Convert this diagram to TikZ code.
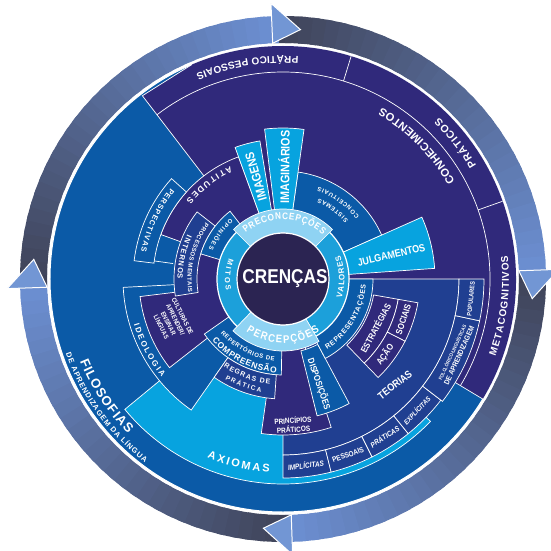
\documentclass[tikz,border=0pt]{standalone}
\usepackage{fontspec}
\setmainfont{Liberation Sans}
\newfontfamily\narrowfont{Liberation Sans}[FakeStretch=0.86]
\usepackage{tikz}
\usetikzlibrary{decorations.text}
\definecolor{coredark}{HTML}{2B2452}
\definecolor{ringblue}{HTML}{1CA0DA}
\definecolor{palblue}{HTML}{8FD3F3}
\definecolor{cyanblue}{HTML}{07A3DF}
\definecolor{midblue}{HTML}{0B5AA7}
\definecolor{deeppurple}{HTML}{30297B}
\definecolor{royblue}{HTML}{203F91}
\definecolor{arrowdark}{HTML}{3F4358}
\definecolor{arrowlight}{HTML}{6B8ED0}
\definecolor{arrowtip}{HTML}{7296D4}

% Kreisring-Ausschnitt und Tortenstueck (Radien in pt, Winkel in Grad)
\newcommand{\ringpart}[5][]{\path[#1] (#4:#2pt) arc[start angle=#4, end angle=#5, radius=#2pt] -- (#5:#3pt) arc[start angle=#5, end angle=#4, radius=#3pt] -- cycle;}
\newcommand{\wedgepart}[4][]{\path[#1] (0,0) -- (#3:#2pt) arc[start angle=#3, end angle=#4, radius=#2pt] -- cycle;}
% Text entlang eines Bogens: [Schrift] Radius, Start, Ende, Groesse, Text
\newcommand{\bogentext}[6][]{\path[decorate, decoration={text along path, text align={fit to path}, text={|\color{white}#1\fontsize{#5}{#5}\selectfont\bfseries|#6}}] (#3:#2pt) arc[start angle=#3, end angle=#4, radius=#2pt];}

\begin{document}
\begin{tikzpicture}[
    x=1pt, y=1pt,
    box/.style={fill=#1, draw=white, line width=0.7pt},
    wline/.style={draw=white, line width=0.7pt},
    lbl/.style={text=white, inner sep=0pt, align=center},
    arrowpart/.style={fill=arrowtip, draw=white, line width=1pt}
  ]
  \path[use as bounding box, fill=white] (-283,-272) rectangle (267,279);

  % Pfeilring mit Farbverlauf
  \foreach \s/\e in {92.5/2, 2/-88, -88/-178, 182/92.5} {
    \foreach \k in {0,...,29} {
      \pgfmathsetmacro\aa{\s+(\e-\s)*\k/30}
      \pgfmathsetmacro\bb{\s+(\e-\s)*(\k+1.5)/30}
      \pgfmathsetmacro\pc{100*\k/29}
      \fill[arrowlight!\pc!arrowdark] (\aa:236pt) arc[start angle=\aa, end angle=\bb, radius=236pt] -- (\bb:263pt) arc[start angle=\bb, end angle=\aa, radius=263pt] -- cycle;
    }
  }
  \foreach \b/\t in {92.5/86, 2/-4.5, -88/-94.5, 182/175.5}
    \filldraw[arrowpart] (\b:236pt) -- (\t:250pt) -- (\b:276pt) -- cycle;

  % Scheibe (Filosofias) und Conhecimentos
  \fill[midblue, draw=white, line width=1pt] (0,0) circle (233pt);
  \fill[deeppurple] (0,0) -- (-31:233pt) arc[start angle=-31, end angle=113, radius=233pt] -- (127.5:231pt) -- cycle;
  \draw[wline] (-31:207pt) arc[start angle=-31, end angle=127.5, radius=207pt];
  \draw[wline] (127.5:130pt) -- (127.5:231pt) -- (113:233pt);
  \draw[wline] (73:207pt) -- (73:233pt) (19.5:207pt) -- (19.5:233pt) (-31:199pt) -- (-31:233pt);

  % Axiomas, Teorias
  \wedgepart[box=cyanblue]{205}{219.5}{316}
  \wedgepart[box=royblue]{176}{-90}{0}
  \ringpart[box=royblue]{176}{199}{-90}{-76}
  \ringpart[box=royblue]{176}{199}{-76}{-63.4}
  \ringpart[box=royblue]{176}{199}{-63.4}{-51}
  \ringpart[box=royblue]{176}{199}{-51}{-37.5}
  \ringpart[box=royblue]{176}{201}{-37.5}{-12}
  \ringpart[box=royblue]{176}{201}{-12}{0}
  \ringpart[box=deeppurple]{92}{117}{-46}{-10}
  \ringpart[box=deeppurple]{117}{137}{-27}{-10}
  \ringpart[box=deeppurple]{117}{137}{-46}{-27}

  % linke Seite
  \wedgepart[box=midblue]{160}{183}{235}
  \wedgepart[box=deeppurple]{144}{187}{218}
  \wedgepart[box=deeppurple]{130}{110}{160}
  \wedgepart[fill=deeppurple]{88}{158}{192}
  \ringpart[box=midblue]{130}{150}{138}{173}
  \draw[wline] (172:111pt) -- (172:130pt);
  \ringpart[box=royblue]{86}{109}{142}{189}
  \wedgepart[box=midblue]{86}{128}{163}

  % oben rechts
  \wedgepart[box=midblue]{108}{24}{82}
  \wedgepart[box=cyanblue]{152}{4}{24}
  \ringpart[box=cyanblue]{68}{151}{82}{97}
  \ringpart[box=cyanblue]{68}{140}{99.5}{110}

  % unten
  \wedgepart[box=deeppurple]{156}{262}{288}
  \wedgepart[box=midblue]{96}{215}{269}
  \ringpart[box=royblue]{96}{120}{235}{266}
  \ringpart[box=midblue]{74}{141}{284}{298}
  \wedgepart[box=midblue]{90}{298}{360}

  % innerer Ring und Kern
  \fill[ringblue, draw=white, line width=1.2pt] (0,0) circle (66pt);
  \ringpart[box=palblue]{46}{70}{45}{135}
  \ringpart[box=palblue]{46}{72}{226}{300}
  \fill[coredark, draw=white, line width=1.2pt] (0,0) circle (46pt);

  % Beschriftungen
  \node[lbl, font=\narrowfont\fontsize{20}{22}\selectfont\bfseries] (crencas) at (2,0) {CRENÇAS};
  \bogentext[\narrowfont]{59.5}{129}{48}{9.5}{PRECONCEPÇÕES}
  \bogentext[\narrowfont]{64}{-125}{-55}{11}{PERCEPÇÕES}
  \bogentext{58}{159}{191}{7.5}{MITOS}
  \bogentext{61.5}{-18}{22}{8}{VALORES}
  \bogentext{124.5}{115}{141}{8.5}{ATITUDES}
  \bogentext{88}{42}{66}{6}{SISTEMAS}
  \bogentext{99}{39.5}{69}{6}{CONCEITUAIS}
  \bogentext{80}{131}{158}{6}{OPINIÕES}
  \bogentext{95.5}{144}{188}{6}{PROCESSOS MENTAIS}
  \bogentext{105.5}{155}{180}{7.5}{INTERNOS}
  \bogentext{144.5}{141}{169}{7.5}{PERSPECTIVAS}
  \bogentext{156}{197}{219}{8}{IDEOLOGIA}
  \bogentext{82.5}{221}{264}{6}{REPERTÓRIOS DE}
  \bogentext{94}{221}{266}{8.5}{COMPREENSÃO}
  \bogentext{106}{236}{263}{7}{REGRAS DE}
  \bogentext{115.5}{240}{259}{6.5}{PRÁTICA}
  \bogentext{83}{-58}{-4}{7}{REPRESENTAÇÕES}
  \bogentext{194}{-113}{-94}{11}{AXIOMAS}
  \bogentext{219}{202}{225}{13}{FILOSOFIAS}
  \bogentext{229.5}{199}{233}{7.5}{DE APRENDIZAGEM DA LÍNGUA}
  \bogentext{226}{-20}{6}{10}{METACOGNITIVOS}
  \bogentext{224.5}{30.5}{46}{10.5}{PRÁTICOS}
  \bogentext{197.5}{29.5}{60}{11.2}{CONHECIMENTOS}
  \bogentext{223}{86}{113}{10}{PRÁTICO PESSOAIS}

  \node[lbl, rotate=89.5, font=\narrowfont\fontsize{12.5}{13}\selectfont\bfseries] (imaginarios) at (89.5:112pt) {IMAGINÁRIOS};
  \node[lbl, rotate=106, font=\narrowfont\fontsize{12.5}{13}\selectfont\bfseries] (imagens) at (104.75:106pt) {IMAGENS};
  \node[lbl, rotate=13, font=\narrowfont\fontsize{10.5}{11}\selectfont\bfseries] (julgamentos) at (12.5:111pt) {JULGAMENTOS};
  \node[lbl, rotate=-71, font=\narrowfont\fontsize{9}{10}\selectfont\bfseries] (disposicoes) at (-71:111pt) {DISPOSIÇÕES};
  \node[lbl, rotate=4, font=\narrowfont\fontsize{7.5}{9}\selectfont\bfseries] (principios) at (274:146pt) {PRINCÍPIOS\\PRÁTICOS};
  \node[lbl, rotate=38, font=\narrowfont\fontsize{10.5}{11}\selectfont\bfseries] (teorias) at (-43.4:154pt) {TEORIAS};
  \node[lbl, rotate=62, font=\narrowfont\fontsize{9}{10}\selectfont\bfseries] (estrategias) at (-28:104.5pt) {ESTRATÉGIAS};
  \node[lbl, rotate=72, font=\narrowfont\fontsize{9}{10}\selectfont\bfseries] (sociais) at (-18.5:127pt) {SOCIAIS};
  \node[lbl, rotate=54, font=\narrowfont\fontsize{9}{10}\selectfont\bfseries] (acao) at (-36.5:127pt) {AÇÃO};
  \node[lbl, rotate=84, font=\narrowfont\fontsize{6.5}{7}\selectfont\bfseries] (populares) at (-6:189pt) {POPULARES};
  \node[lbl, rotate=65.5, font=\narrowfont\fontsize{7.5}{8}\selectfont\bfseries] (folclorico) at (-23.5:188.5pt) {{\fontsize{5}{6}\selectfont FOLCLÓRICO-LINGUÍSTICAS}\\DE APRENDIZAGEM};
  \node[lbl, rotate=7, font=\narrowfont\fontsize{7.5}{8}\selectfont\bfseries\itshape] (implicitas) at (-83:187.5pt) {IMPLÍCITAS};
  \node[lbl, rotate=20, font=\narrowfont\fontsize{7.5}{8}\selectfont\bfseries] (pessoais) at (-69.7:187.5pt) {PESSOAIS};
  \node[lbl, rotate=33, font=\narrowfont\fontsize{7.5}{8}\selectfont\bfseries\itshape] (praticas) at (-57.2:187.5pt) {PRÁTICAS};
  \node[lbl, rotate=46, font=\narrowfont\fontsize{7}{8}\selectfont\bfseries\itshape] (explicitas) at (-44.5:187.5pt) {EXPLÍCITAS};
  \node[lbl, rotate=-63, font=\narrowfont\fontsize{6.6}{8}\selectfont\bfseries] (culturas) at (201:119pt) {CULTURAS DE\\APRENDER/\\ENSINAR\\LÍNGUAS};
\end{tikzpicture}
\end{document}
